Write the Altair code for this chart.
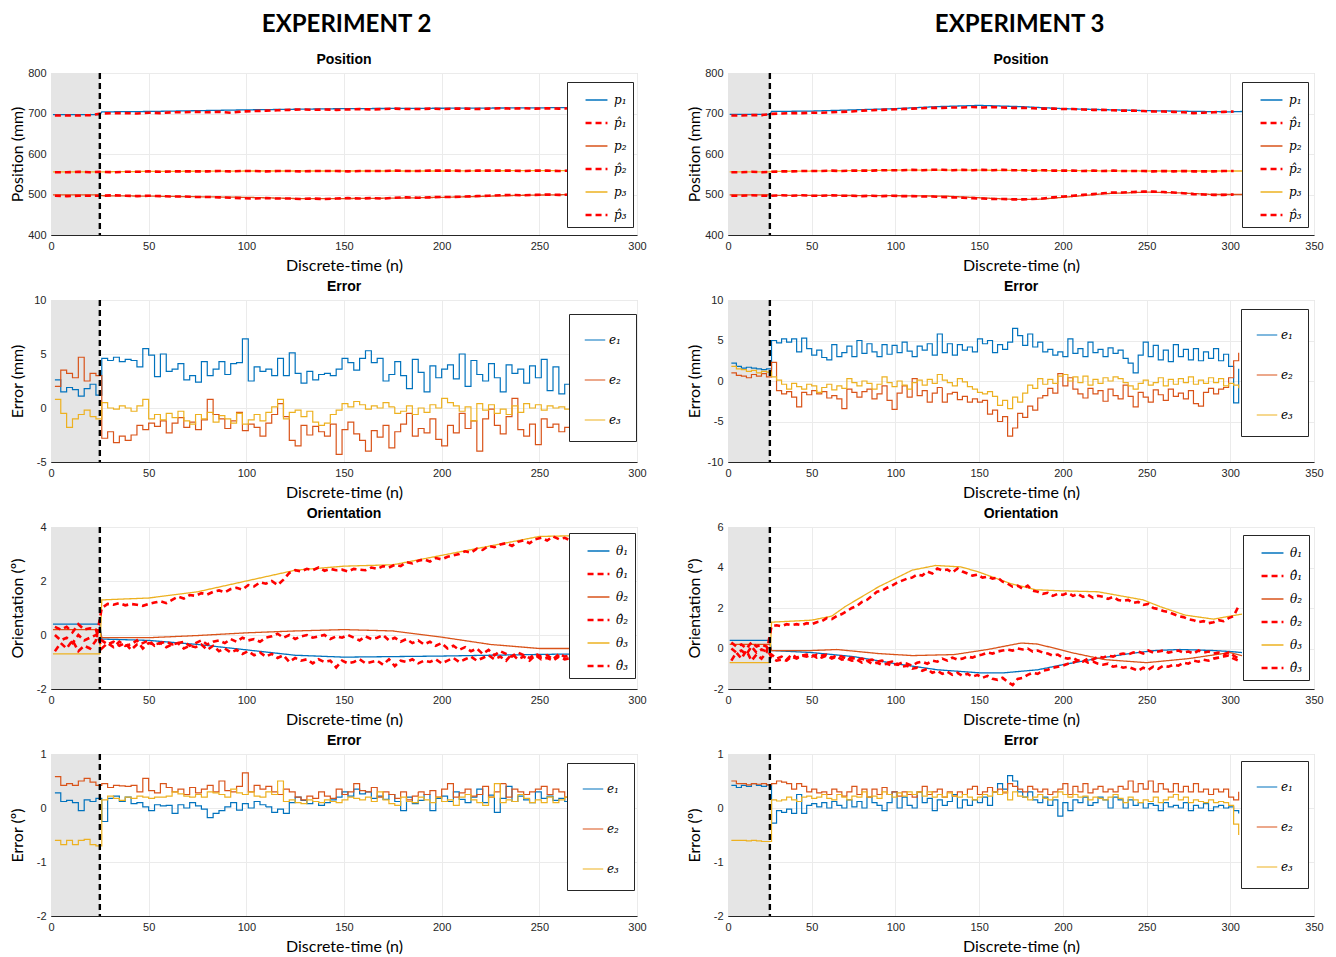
import altair as alt
import pandas as pd

BLUE, ORANGE, YELLOW, RED = "#0072BD", "#D95319", "#EDB120", "#FF0000"

TRANSIENT_END = 25   # end of shaded initial phase (n)
GRID_START = 2       # first sampled instant (n)
ERR_STEP = 3         # sampling step of error / orientation-estimate series
POS_HAT_STEP = 6     # sampling step of position estimates

# ======================= EXPERIMENT 2 =======================
E2_P1_N = [1, 25, 26, 50, 100, 150, 200, 250, 270]
E2_P1 = [697, 697, 704, 705, 709, 712, 713, 714, 715]
E2_P2_N = [1, 25, 26, 50, 100, 125, 150, 175, 200, 240, 270]
E2_P2 = [499, 499, 497, 496, 493, 490, 490, 491, 493, 498, 500]
E2_P3_N = [1, 25, 26, 50, 100, 150, 200, 250, 270]
E2_P3 = [556, 556, 556, 557, 558, 558, 558, 559, 559]
E2_P1_HAT = [695, 695, 695, 696,
             700, 701, 701, 700, 702, 701, 703, 703, 704, 703,
             704, 702, 705, 706, 707, 708, 709, 710, 709, 710,
             709, 710, 711, 710, 711, 712, 711, 711, 712, 711,
             712, 712, 711, 712, 713, 712, 713, 712, 713, 712, 713]
E2_P2_HAT = [497, 496, 497, 497,
             497, 498, 497, 496, 497, 496, 495, 495, 494, 494,
             493, 492, 491, 490, 491, 490, 490, 489, 490, 489,
             490, 491, 490, 491, 490, 492, 493, 492, 493, 494,
             494, 495, 496, 497, 498, 499, 498, 499, 500, 499, 500]
E2_P3_HAT = [555, 555, 556, 555,
             556, 555, 556, 556, 557, 556, 557, 557, 557, 557,
             558, 557, 558, 558, 557, 558, 558, 557, 558, 558,
             558, 557, 558, 558, 558, 559, 558, 558, 559, 559,
             559, 558, 559, 559, 559, 559, 558, 559, 559, 558, 559]

E2_EP1 = [2.6, 1.5, 1.9, 1.7, 1.1, 1.8, 2.2, 1.2,
          4.6, 4.4, 4.7, 4.3, 4.5, 4.4, 3.8, 5.5, 4.9, 2.9,
          5.0, 3.4, 3.6, 4.1, 2.6, 3.0, 2.4, 4.3, 3.0, 3.6,
          4.3, 3.1, 4.1, 4.2, 6.4, 2.5, 3.8, 3.4, 3.6, 3.0,
          4.6, 3.0, 5.1, 3.2, 2.3, 3.4, 2.6, 3.1, 3.2, 3.0,
          3.6, 4.6, 4.2, 3.5, 4.6, 5.3, 4.2, 4.6, 2.5, 3.1,
          4.3, 3.0, 1.8, 4.5, 3.3, 1.5, 3.9, 2.8, 3.6, 4.0,
          2.7, 5.0, 2.0, 4.4, 3.1, 2.5, 4.1, 2.8, 1.5, 4.0,
          3.2, 3.6, 2.3, 3.9, 2.8, 4.5, 1.6, 3.8, 1.3, 2.2, 2.6, 2.4]
E2_EP2 = [2.0, 3.5, 3.2, 2.8, 4.7, 2.5, 3.2, 3.0,
          -2.8, -2.2, -3.2, -2.6, -3.0, -2.5, -1.6, -2.0, -1.4, -1.7,
          -1.2, -2.3, -1.4, -0.9, -1.8, -1.3, -2.0, -1.1, 0.8, -0.6,
          -1.0, -1.9, -1.2, -0.4, -2.1, -1.5, -1.8, -2.6, -1.4, -0.6,
          0.4, -0.8, -3.0, -3.5, -1.6, -2.5, -1.7, -2.2, -2.6, -1.5,
          -4.3, -2.0, -1.3, -2.4, -3.0, -4.0, -2.1, -2.7, -1.6, -3.7,
          -2.2, -1.5, -0.5, -2.6, -1.9, -2.3, -1.0, -2.9, -3.5, -1.6,
          -2.3, -0.5, -1.9, -1.2, -4.0, -1.0, -0.1, -1.6, -2.4, -0.8,
          0.9, -2.0, -2.6, -1.5, -3.4, -1.0, -1.8, -1.5, -2.2, -1.8, -2.0, -2.4]
E2_EP3 = [0.8, -0.5, -1.8, -1.0, -0.6, -0.2, -0.8, -1.0,
          0.5, 0.0, -0.1, 0.2, 0.0, -0.3, 0.2, 0.8, -1.0, -0.6,
          -1.1, -0.5, -0.9, -0.3, -1.2, -1.5, -0.6, -1.0, -0.4, -1.3,
          -0.7, -1.0, -1.4, -0.5, -1.5, -1.1, -0.6, -1.2, -0.4, 0.1,
          0.8, -1.0, -0.4, -0.2, -0.8, -0.3, -1.3, -1.6, -1.4, -0.6,
          -0.2, 0.4, 0.1, 0.6, 0.3, -0.1, 0.2, 0.0, 0.5, 0.1,
          -0.5, -0.3, 0.2, -0.6, 0.0, -0.4, 0.3, 0.0, 0.9, 0.5,
          0.2, -0.3, 0.1, -1.2, 0.4, -0.2, 0.3, -0.5, -0.1, -0.6,
          0.2, -0.4, 0.4, 0.0, 0.3, -0.2, 0.2, 0.0, 0.1, -0.1, 0.0, 0.0]

E2_T_N = [1, 25, 26, 50, 75, 100, 125, 150, 175, 200, 225, 250, 270]
E2_T1 = [0.4, 0.4, -0.15, -0.2, -0.35, -0.55, -0.75, -0.82, -0.8, -0.78, -0.75, -0.72, -0.7]
E2_T2 = [0.2, 0.2, -0.1, -0.1, -0.02, 0.08, 0.15, 0.2, 0.15, -0.08, -0.35, -0.5, -0.5]
E2_T3 = [-0.7, -0.7, 1.3, 1.37, 1.6, 2.0, 2.4, 2.55, 2.6, 2.95, 3.3, 3.65, 3.68]
E2_T1_HAT = [0.3, 0.2, 0.3, 0.1, 0.4, 0.2, 0.25, 0.2,
             -0.5, -0.3, -0.45, -0.25, -0.4, -0.35, -0.2, -0.5, -0.3, -0.35,
             -0.3, -0.45, -0.35, -0.3, -0.5, -0.4, -0.45, -0.35, -0.55, -0.4,
             -0.6, -0.5, -0.65, -0.55, -0.7, -0.6, -0.75, -0.65, -0.8, -0.7,
             -0.85, -0.75, -1.0, -0.85, -0.95, -0.9, -1.05, -0.9, -1.0, -0.95,
             -1.2, -0.95, -1.05, -1.0, -0.9, -1.05, -1.0, -0.95, -1.1, -0.9,
             -1.15, -0.95, -1.0, -0.9, -1.05, -0.95, -1.0, -0.9, -1.05, -0.95,
             -0.85, -1.0, -0.9, -0.8, -0.95, -0.85, -0.75, -0.9, -0.8, -0.95,
             -0.7, -0.9, -0.8, -0.95, -0.75, -0.9, -0.85, -0.95, -0.8, -0.9, -0.85, -0.9]
E2_T2_HAT = [0.0, -0.2, -0.1, -0.3, 0.0, -0.2, -0.1, 0.0,
             -0.2, -0.35, -0.25, -0.4, -0.3, -0.55, -0.35, -0.3, -0.2, -0.4,
             -0.3, -0.25, -0.35, -0.3, -0.25, -0.4, -0.3, -0.2, -0.35, -0.25,
             -0.2, -0.3, -0.15, -0.25, -0.1, -0.2, -0.15, -0.25, -0.1, -0.05,
             0.05, -0.1, 0.0, -0.15, -0.05, 0.0, -0.1, -0.05, 0.0, -0.15,
             -0.05, -0.1, 0.0, -0.1, -0.2, -0.05, -0.15, -0.1, 0.0, -0.2,
             -0.1, -0.25, -0.15, -0.3, -0.2, -0.35, -0.25, -0.4, -0.3, -0.5,
             -0.4, -0.55, -0.45, -0.6, -0.5, -0.7, -0.55, -0.75, -0.6, -0.7,
             -0.8, -0.65, -0.75, -0.85, -0.7, -0.8, -0.75, -0.9, -0.7, -0.8, -0.75, -0.8]
E2_T3_HAT = [-0.6, -0.3, -0.5, -0.2, -0.6, -0.4, -0.5, -0.2,
             1.0, 1.15, 1.12, 1.18, 1.1, 1.15, 1.12, 1.08, 1.15, 1.2,
             1.25, 1.18, 1.3, 1.42, 1.35, 1.48, 1.45, 1.55, 1.5, 1.6,
             1.65, 1.58, 1.7, 1.75, 1.68, 1.85, 1.8, 1.95, 1.9, 2.0,
             1.85, 2.05, 2.3, 2.4, 2.35, 2.45, 2.4, 2.5, 2.38, 2.45,
             2.4, 2.42, 2.35, 2.45, 2.42, 2.4, 2.5, 2.45, 2.55, 2.5,
             2.6, 2.55, 2.7, 2.65, 2.75, 2.8, 2.72, 2.85, 2.8, 2.9,
             2.95, 3.0, 3.1, 3.05, 3.2, 3.15, 3.3, 3.25, 3.35, 3.4,
             3.3, 3.45, 3.5, 3.4, 3.55, 3.6, 3.5, 3.65, 3.55, 3.6, 3.5, 3.6]

E2_EO1 = [0.28, 0.12, 0.14, 0.1, -0.05, 0.15, 0.12, 0.18,
          -0.25, 0.18, 0.22, 0.12, 0.2, 0.08, 0.1, 0.02, -0.05, 0.06,
          0.04, 0.05, -0.1, 0.06, 0.0, 0.1, 0.04, -0.02, -0.18, -0.1,
          -0.05, 0.02, 0.1, -0.04, 0.08, 0.0, 0.12, 0.06, 0.02, -0.08,
          -0.02, -0.1, 0.1, 0.2, 0.14, 0.08, 0.12, 0.05, 0.1, 0.15,
          0.2, 0.3, 0.22, 0.35, 0.26, 0.3, 0.18, 0.22, 0.16, 0.25,
          0.12, -0.05, 0.2, 0.08, 0.14, 0.25, -0.05, 0.18, 0.22, 0.12,
          0.3, 0.16, 0.1, 0.2, 0.35, 0.1, 0.24, -0.08, 0.18, 0.4,
          0.12, 0.22, 0.15, 0.1, 0.3, 0.18, 0.22, 0.14, 0.18, 0.12, 0.15, 0.2]
E2_EO2 = [0.58, 0.42, 0.45, 0.42, 0.5, 0.55, 0.48, 0.42,
          0.45, 0.38, 0.42, 0.41, 0.4, 0.42, 0.3, 0.55, 0.32, 0.28,
          0.45, 0.38, 0.3, 0.35, 0.25, 0.38, 0.28, 0.35, 0.42, 0.3,
          0.5, 0.32, 0.3, 0.4, 0.65, 0.3, 0.42, 0.35, 0.4, 0.3,
          0.25, 0.35, 0.3, 0.2, 0.15, 0.22, 0.18, 0.3, 0.22, 0.18,
          0.35, 0.25, 0.3, 0.45, 0.32, 0.3, 0.38, 0.2, 0.3, 0.25,
          0.18, 0.3, 0.15, 0.22, 0.3, 0.25, 0.32, 0.2, 0.35, 0.45,
          0.2, 0.28, 0.35, 0.22, 0.25, 0.4, 0.2, 0.3, 0.45, 0.2,
          0.35, 0.3, 0.25, 0.3, 0.35, 0.4, 0.25, 0.35, 0.3, 0.2, 0.28, 0.2]
E2_EO3 = [-0.6, -0.68, -0.6, -0.68, -0.6, -0.58, -0.68, -0.7,
          0.15, 0.22, 0.18, 0.14, 0.2, 0.18, 0.22, 0.2, 0.18, 0.2,
          0.2, 0.22, 0.3, 0.26, 0.22, 0.2, 0.25, 0.2, 0.3, 0.28,
          0.25, 0.2, 0.35, 0.28, 0.25, 0.3, 0.22, 0.2, 0.3, 0.25,
          0.5, 0.12, 0.15, 0.1, 0.08, 0.15, 0.12, 0.1, 0.15, 0.12,
          0.1, 0.15, 0.2, 0.18, 0.15, 0.2, 0.12, 0.3, 0.15, 0.08,
          0.05, 0.2, 0.12, 0.1, 0.2, 0.15, 0.1, 0.2, 0.12, 0.15,
          0.05, 0.2, 0.25, 0.15, 0.1, 0.05, 0.2, 0.45, 0.1, 0.15,
          0.12, 0.25, 0.18, 0.1, 0.15, 0.1, 0.2, 0.1, 0.15, 0.2, 0.12, 0.18]

# ======================= EXPERIMENT 3 =======================
E3_P1_N = [1, 25, 26, 50, 100, 125, 150, 175, 200, 250, 300, 307]
E3_P1 = [698, 698, 705, 706, 712, 717, 720, 717, 712, 707, 704, 705]
E3_P2_N = [1, 25, 26, 50, 100, 130, 150, 170, 185, 200, 225, 250, 270, 290, 307]
E3_P2 = [499, 499, 498, 498, 497, 496, 492, 488, 488, 493, 502, 506, 504, 500, 500]
E3_P3_N = [1, 25, 26, 50, 100, 150, 200, 250, 307]
E3_P3 = [556, 556, 557, 558, 560, 560, 559, 558, 558]
E3_P1_HAT = [695, 695, 696, 696,
             699, 700, 701, 701, 702, 702, 703, 704, 705, 707,
             708, 709, 710, 711, 712, 713, 714, 714, 715, 715,
             716, 715, 716, 715, 714, 714, 713, 712, 712, 711,
             711, 710, 709, 709, 708, 707, 707, 706, 705, 705,
             704, 703, 701, 702, 703, 704, 705]
E3_P2_HAT = [497, 497, 498, 497,
             497, 498, 497, 498, 497, 497, 498, 497, 497, 496,
             497, 496, 497, 496, 496, 495, 495, 494, 493, 492,
             491, 490, 489, 489, 488, 488, 489, 490, 493, 495,
             497, 499, 501, 503, 505, 505, 506, 507, 507, 506,
             505, 503, 501, 500, 499, 499, 500]
E3_P3_HAT = [555, 555, 556, 555,
             556, 557, 557, 558, 558, 558, 559, 558, 559, 559,
             559, 560, 560, 560, 561, 560, 561, 561, 560, 561,
             560, 561, 560, 561, 560, 560, 559, 560, 559, 559,
             559, 558, 559, 558, 559, 558, 558, 558, 557, 558,
             557, 558, 557, 557, 557, 558, 558]

E3_EP1 = [2.2, 1.8, 1.6, 1.7, 1.6, 1.5, 1.4, 1.5,
          5.0, 4.7, 5.2, 4.8, 5.2, 3.6, 5.3, 4.0, 3.2, 3.8,
          2.9, 2.6, 4.5, 3.0, 3.5, 4.3, 3.0, 5.0, 3.4, 4.6,
          3.6, 3.0, 4.5, 3.3, 4.4, 3.5, 4.8, 3.7, 3.0, 4.3,
          3.8, 4.6, 3.2, 5.8, 3.5, 4.6, 3.2, 4.5, 3.8, 4.2,
          3.6, 5.2, 4.6, 5.0, 3.5, 4.5, 3.9, 4.8, 6.5, 5.6,
          4.4, 5.8, 4.2, 4.8, 3.6, 3.9, 3.2, 3.6, 3.0, 5.2,
          3.4, 4.0, 3.0, 4.8, 3.5, 3.9, 3.0, 4.1, 3.4, 3.8,
          2.8, 2.2, 1.0, 3.2, 4.8, 3.0, 4.4, 2.6, 3.8, 2.4,
          4.5, 3.0, 3.9, 2.6, 4.0, 2.5, 3.6, 2.8, 4.0, 2.5,
          3.3, 1.8, -2.7, 1.5]
E3_EP2 = [1.0, 0.7, 0.6, 0.4, 0.8, 0.6, 0.9, 0.5,
          2.3, -1.2, -1.6, -1.3, -2.0, -3.2, -1.4, -1.7, -1.2, -1.6,
          -1.3, -2.1, -1.8, -2.2, -3.4, -1.0, -1.4, -2.0, -1.3, -1.0,
          -2.2, -1.6, -0.6, -2.4, -3.5, -1.5, -0.6, -2.0, 0.3, -1.8,
          -1.2, -2.6, -1.5, -0.8, -2.6, -1.6, -1.4, -2.3, -1.9, -2.6,
          -2.2, -2.6, -2.4, -4.1, -3.6, -5.0, -4.4, -6.8, -5.8, -4.0,
          -4.5, -3.1, -3.6, -2.1, -1.8, -0.9, -1.5, 0.9, -0.6, 0.4,
          -1.0, -1.6, -2.1, -0.9, -1.6, -1.2, -2.5, -1.0, -1.8, -2.2,
          -0.5, -1.9, -3.2, -1.4, -2.0, -2.6, -1.1, -1.7, -2.4, -1.0,
          -1.9, -1.5, -2.2, -1.2, -2.8, -3.1, -1.4, -0.9, -1.6, -1.0,
          -0.8, 0.4, 2.5, 3.5]
E3_EP3 = [1.8, 1.5, 1.4, 1.2, 1.3, 1.0, 1.2, 1.1,
          0.5, 0.1, -0.4, -1.0, -0.3, -0.7, -1.0, -0.4, -0.6, -1.4,
          -0.8, -0.4, -1.1, -0.6, -0.9, 0.3, -0.2, -0.6, 0.0, -0.3,
          -1.0, -0.4, 0.5, -0.2, -0.7, 0.0, -0.5, -1.0, -0.2, 0.1,
          -0.5, 0.2, -0.3, 0.8, 0.1, -0.2, -0.6, 0.3, -0.1, -0.7,
          -1.0, -1.4, -1.6, -1.3, -1.9, -3.0, -2.4, -3.4, -2.0, -2.6,
          -1.5, -0.5, -0.9, 0.3, -0.4, 0.2, -0.3, 0.6, 0.8, 0.0,
          0.5, -0.2, 0.6, -0.5, 0.2, -0.3, 0.4, 0.0, 0.5, 0.3,
          -0.2, -0.6, -1.0, -0.3, 0.1, -0.5, -0.2, 0.4, -0.6, 0.2,
          -0.4, 0.3, -0.2, 0.5, -0.4, 0.1, -0.3, 0.4, -0.2, 0.3,
          -0.6, -0.3, -0.5, -0.9]

E3_T1_N = [1, 25, 26, 50, 75, 100, 125, 150, 165, 185, 200, 220, 240, 255, 270, 290, 300, 307]
E3_T1 = [0.4, 0.4, -0.1, -0.2, -0.4, -0.75, -1.05, -1.2, -1.2, -1.05, -0.8, -0.5, -0.25, -0.1, -0.05, -0.1, -0.15, -0.2]
E3_T2_N = [1, 25, 26, 50, 65, 90, 110, 135, 155, 175, 185, 205, 225, 250, 275, 300, 307]
E3_T2 = [0.2, 0.2, -0.1, -0.1, -0.05, -0.25, -0.35, -0.3, -0.05, 0.27, 0.22, -0.2, -0.55, -0.7, -0.5, -0.2, -0.35]
E3_T3_N = [1, 25, 26, 50, 62, 70, 90, 100, 110, 124, 139, 149, 169, 184, 199, 221, 248, 258, 273, 290, 300, 307]
E3_T3 = [-0.7, -0.7, 1.3, 1.4, 1.6, 2.07, 3.05, 3.46, 3.87, 4.1, 4.03, 3.8, 3.2, 2.9, 2.85, 2.8, 2.4, 2.07, 1.65, 1.45, 1.6, 1.7]
E3_T1_HAT = [0.3, 0.1, 0.2, 0.0, 0.3, 0.1, 0.2, 0.1,
             -0.45, -0.6, -0.55, -0.6, -0.4, -0.5, -0.35, -0.3, -0.4, -0.3,
             -0.45, -0.35, -0.5, -0.4, -0.55, -0.5, -0.6, -0.55, -0.7, -0.6,
             -0.75, -0.7, -0.8, -0.75, -0.85, -0.75, -0.9, -0.85, -1.0, -0.95,
             -1.1, -1.0, -1.2, -1.1, -1.25, -1.15, -1.3, -1.2, -1.35, -1.25,
             -1.4, -1.3, -1.45, -1.35, -1.5, -1.55, -1.45, -1.65, -1.8, -1.5,
             -1.45, -1.3, -1.2, -1.25, -1.1, -1.05, -0.95, -0.9, -0.85, -0.75,
             -0.7, -0.6, -0.65, -0.5, -0.55, -0.4, -0.45, -0.35, -0.4, -0.3,
             -0.25, -0.3, -0.2, -0.15, -0.25, -0.1, -0.2, -0.15, -0.1, -0.2,
             -0.15, -0.1, -0.2, -0.15, -0.25, -0.1, -0.2, -0.15, -0.25, -0.2,
             -0.3, -0.2, -0.35, -0.5]
E3_T2_HAT = [0.0, -0.2, -0.1, -0.3, 0.1, -0.2, -0.05, -0.15,
             -0.3, -0.5, -0.4, -0.55, -0.3, -0.45, -0.35, -0.4, -0.3, -0.45,
             -0.35, -0.3, -0.45, -0.35, -0.4, -0.5, -0.45, -0.55, -0.5, -0.6,
             -0.55, -0.65, -0.6, -0.7, -0.65, -0.8, -0.7, -0.75, -0.85, -0.7,
             -0.65, -0.75, -0.6, -0.65, -0.5, -0.6, -0.45, -0.55, -0.5, -0.4,
             -0.45, -0.35, -0.3, -0.2, -0.25, -0.15, -0.1, -0.05, -0.1, 0.0,
             -0.05, 0.0, -0.15, -0.1, -0.2, -0.25, -0.35, -0.3, -0.45, -0.5,
             -0.45, -0.6, -0.55, -0.7, -0.65, -0.75, -0.8, -0.75, -0.9, -0.85,
             -0.95, -0.9, -1.0, -1.1, -0.95, -1.05, -0.9, -1.0, -0.85, -0.9,
             -0.8, -0.85, -0.7, -0.75, -0.6, -0.65, -0.55, -0.6, -0.5, -0.45,
             -0.4, -0.35, -0.5, -0.6]
E3_T3_HAT = [-0.6, -0.2, -0.5, -0.1, -0.6, -0.3, -0.5, -0.2,
             1.1, 1.15, 1.1, 1.2, 1.15, 1.2, 1.15, 1.25, 1.2, 1.3,
             1.35, 1.5, 1.45, 1.6, 1.7, 1.85, 2.0, 2.1, 2.3, 2.4,
             2.6, 2.8, 2.85, 3.0, 3.1, 3.25, 3.35, 3.45, 3.5, 3.65,
             3.6, 3.8, 3.7, 3.95, 3.85, 3.9, 3.75, 3.95, 3.8, 3.7,
             3.6, 3.65, 3.5, 3.55, 3.45, 3.5, 3.3, 3.2, 3.05, 3.1,
             2.95, 3.1, 2.85, 2.8, 2.7, 2.75, 2.6, 2.7, 2.65, 2.75,
             2.6, 2.7, 2.55, 2.65, 2.5, 2.6, 2.55, 2.45, 2.55, 2.4,
             2.35, 2.4, 2.25, 2.3, 2.15, 2.2, 2.0, 1.95, 1.85, 1.8,
             1.7, 1.6, 1.55, 1.45, 1.4, 1.3, 1.35, 1.25, 1.3, 1.4,
             1.35, 1.5, 1.6, 2.1]

E3_EO1 = [0.42, 0.38, 0.42, 0.4, 0.45, 0.42, 0.4, 0.43,
          -0.28, -0.05, -0.08, -0.02, -0.1, 0.25, -0.1, 0.05, 0.08, 0.02,
          0.1, 0.0, 0.12, 0.05, 0.0, 0.15, 0.02, 0.12, 0.0, 0.2,
          0.1, 0.05, -0.05, 0.1, 0.3, 0.0, 0.2, 0.05, 0.0, 0.3,
          0.1, 0.18, -0.05, 0.15, 0.05, 0.12, 0.25, 0.0, 0.15, 0.05,
          0.15, 0.1, 0.2, 0.05, 0.3, 0.45, 0.35, 0.6, 0.5, 0.3,
          0.2, 0.3, 0.15, 0.1, 0.2, 0.05, 0.15, -0.15, 0.1, -0.05,
          0.15, 0.1, 0.2, 0.05, 0.1, 0.2, 0.15, 0.0, 0.2, 0.15,
          0.0, 0.15, 0.05, 0.1, 0.0, 0.08, 0.05, -0.05, 0.1, 0.02,
          0.05, 0.0, 0.1, -0.05, 0.05, 0.0, 0.08, -0.05, 0.02, 0.05,
          0.0, 0.02, -0.05, -0.1]
E3_EO2 = [0.5, 0.45, 0.45, 0.43, 0.45, 0.44, 0.45, 0.43,
          0.45, 0.5, 0.48, 0.45, 0.35, 0.45, 0.4, 0.3, 0.35, 0.28,
          0.3, 0.25, 0.35, 0.3, 0.22, 0.3, 0.4, 0.25, 0.35, 0.2,
          0.35, 0.25, 0.38, 0.25, 0.3, 0.22, 0.3, 0.25, 0.2, 0.3,
          0.4, 0.25, 0.3, 0.35, 0.2, 0.3, 0.22, 0.3, 0.25, 0.35,
          0.4, 0.25, 0.3, 0.38, 0.3, 0.35, 0.28, 0.45, 0.4, 0.35,
          0.3, 0.4, 0.35, 0.3, 0.35, 0.25, 0.3, 0.35, 0.45, 0.25,
          0.4, 0.3, 0.45, 0.28, 0.35, 0.4, 0.3, 0.35, 0.3, 0.4,
          0.35, 0.5, 0.3, 0.45, 0.35, 0.5, 0.3, 0.45, 0.35, 0.3,
          0.45, 0.3, 0.4, 0.3, 0.45, 0.3, 0.35, 0.25, 0.35, 0.3,
          0.35, 0.2, 0.15, 0.3]
E3_EO3 = [-0.6, -0.6, -0.6, -0.61, -0.6, -0.61, -0.62, -0.62,
          0.15, 0.13, 0.15, 0.2, 0.15, 0.12, 0.2, 0.22, 0.18, 0.2,
          0.25, 0.18, 0.15, 0.25, 0.2, 0.15, 0.22, 0.2, 0.3, 0.2,
          0.22, 0.18, 0.3, 0.25, 0.2, 0.28, 0.22, 0.3, 0.25, 0.3,
          0.22, 0.3, 0.2, 0.25, 0.2, 0.28, 0.22, 0.2, 0.25, 0.2,
          0.15, 0.2, 0.25, 0.22, 0.3, 0.25, 0.3, 0.15, 0.3, 0.22,
          0.2, 0.15, 0.2, 0.25, 0.18, 0.15, 0.2, 0.3, 0.25, 0.2,
          0.25, 0.2, 0.22, 0.15, 0.2, 0.18, 0.15, 0.2, 0.25, 0.18,
          0.1, 0.2, 0.15, 0.1, 0.15, 0.12, 0.2, 0.1, 0.15, 0.2,
          0.25, 0.15, 0.2, 0.1, 0.15, 0.12, 0.1, 0.15, 0.1, 0.12,
          0.1, 0.05, -0.3, -0.5]

# ======================= labels / styles =======================
P_LABELS = ["p\u2081", "p\u0302\u2081", "p\u2082", "p\u0302\u2082", "p\u2083", "p\u0302\u2083"]
T_LABELS = ["\u03b8\u2081", "\u03b8\u0302\u2081", "\u03b8\u2082", "\u03b8\u0302\u2082", "\u03b8\u2083", "\u03b8\u0302\u2083"]
E_LABELS = ["e\u2081", "e\u2082", "e\u2083"]
SIX_COLORS = [BLUE, RED, ORANGE, RED, YELLOW, RED]
SIX_DASHES = [[1, 0], [6, 4], [1, 0], [6, 4], [1, 0], [6, 4]]
SIX_WIDTHS = [1.3, 2.6, 1.3, 2.6, 1.3, 2.6]
E_COLORS = [BLUE, ORANGE, YELLOW]
E_DASHES = [[1, 0], [1, 0], [1, 0]]
E_WIDTHS = [1.2, 1.2, 1.2]


def grid_rows(values, step, label):
    return [{"n": GRID_START + step * i, "v": v, "s": label} for i, v in enumerate(values)]


def knot_rows(ns, vs, label):
    return [{"n": n, "v": v, "s": label} for n, v in zip(ns, vs)]


def panel(rows, labels, colors, dashes, widths, interp, xmax, ydom, yvals,
          title, ytitle, lx, ly, leg_style):
    xs = alt.Scale(domain=[0, xmax], nice=False, zero=False)
    ys = alt.Scale(domain=ydom, nice=False, zero=False)
    xaxis = alt.Axis(values=list(range(0, xmax + 1, 50)), title="Discrete-time (n)",
                     labelFlush=False, labelPadding=5, titlePadding=6)
    yaxis = alt.Axis(values=yvals, title=ytitle, labelPadding=5, titlePadding=4,
                     minExtent=22, maxExtent=22,
                     labelExpr="replace(datum.label, '\u2212', '-')")
    shade_df = pd.DataFrame({"a": [0], "b": [TRANSIENT_END], "lo": [ydom[0]], "hi": [ydom[1]]})
    shade = alt.Chart(shade_df).mark_rect(color="#e5e5e5").encode(
        x=alt.X("a:Q", scale=xs, axis=xaxis), x2="b:Q",
        y=alt.Y("lo:Q", scale=ys, axis=yaxis), y2="hi:Q")
    leg = alt.Legend(orient="none", legendX=lx, legendY=ly, title=None,
                     fillColor="white", strokeColor="#262626",
                     symbolType="stroke", labelFont="DejaVu Serif",
                     labelFontStyle="italic", labelFontSize=12, labelColor="black",
                     **leg_style)
    lines = alt.Chart(pd.DataFrame(rows)).mark_line(interpolate=interp, clip=True).encode(
        x=alt.X("n:Q", scale=xs, axis=xaxis),
        y=alt.Y("v:Q", scale=ys, axis=yaxis),
        color=alt.Color("s:N", scale=alt.Scale(domain=labels, range=colors), legend=leg),
        strokeDash=alt.StrokeDash("s:N", scale=alt.Scale(domain=labels, range=dashes), legend=leg),
        strokeWidth=alt.StrokeWidth("s:N", scale=alt.Scale(type="ordinal", domain=labels, range=widths), legend=leg),
    )
    rule = alt.Chart(pd.DataFrame({"t": [TRANSIENT_END]})).mark_rule(
        color="black", strokeDash=[6, 4], strokeWidth=2.4).encode(
        x=alt.X("t:Q", scale=xs, axis=xaxis))
    return alt.layer(shade, lines, rule).properties(
        width=586, height=162,
        title=alt.TitleParams(title, font="Liberation Sans", fontSize=14, fontWeight="bold",
                              offset=0, frame="group", anchor="middle", color="black"))


def pos_rows(k1, v1, k2, v2, k3, v3, h1, h2, h3):
    return (knot_rows(k1, v1, P_LABELS[0]) + knot_rows(k2, v2, P_LABELS[2]) + knot_rows(k3, v3, P_LABELS[4])
            + grid_rows(h1, POS_HAT_STEP, P_LABELS[1]) + grid_rows(h2, POS_HAT_STEP, P_LABELS[3])
            + grid_rows(h3, POS_HAT_STEP, P_LABELS[5]))


def ori_rows(k1, v1, k2, v2, k3, v3, h1, h2, h3):
    return (knot_rows(k1, v1, T_LABELS[0]) + knot_rows(k2, v2, T_LABELS[2]) + knot_rows(k3, v3, T_LABELS[4])
            + grid_rows(h1, ERR_STEP, T_LABELS[1]) + grid_rows(h2, ERR_STEP, T_LABELS[3])
            + grid_rows(h3, ERR_STEP, T_LABELS[5]))


def err_rows(a, b, c):
    return grid_rows(a, ERR_STEP, E_LABELS[0]) + grid_rows(b, ERR_STEP, E_LABELS[1]) + grid_rows(c, ERR_STEP, E_LABELS[2])


SIX = dict(padding=6, rowPadding=4.5, symbolSize=480, symbolOffset=11, labelOffset=5)
THREE = dict(padding=15, rowPadding=23, symbolSize=420, symbolOffset=0, labelOffset=3)

e2 = [
    panel(pos_rows(E2_P1_N, E2_P1, E2_P2_N, E2_P2, E2_P3_N, E2_P3, E2_P1_HAT, E2_P2_HAT, E2_P3_HAT),
          P_LABELS, SIX_COLORS, SIX_DASHES, SIX_WIDTHS, "linear", 300, [400, 800],
          [400, 500, 600, 700, 800], "Position", "Position (mm)", 516, 9, SIX),
    panel(err_rows(E2_EP1, E2_EP2, E2_EP3), E_LABELS, E_COLORS, E_DASHES, E_WIDTHS, "step-after",
          300, [-5, 10], [-5, 0, 5, 10], "Error", "Error (mm)", 518, 14, THREE),
    panel(ori_rows(E2_T_N, E2_T1, E2_T_N, E2_T2, E2_T_N, E2_T3, E2_T1_HAT, E2_T2_HAT, E2_T3_HAT),
          T_LABELS, SIX_COLORS, SIX_DASHES, SIX_WIDTHS, "linear", 300, [-2, 4],
          [-2, 0, 2, 4], "Orientation", "Orientation (\u00ba)", 518, 6, SIX),
    panel(err_rows(E2_EO1, E2_EO2, E2_EO3), E_LABELS, E_COLORS, E_DASHES, E_WIDTHS, "step-after",
          300, [-2, 1], [-2, -1, 0, 1], "Error", "Error (\u00ba)", 516, 9, THREE),
]
e3 = [
    panel(pos_rows(E3_P1_N, E3_P1, E3_P2_N, E3_P2, E3_P3_N, E3_P3, E3_P1_HAT, E3_P2_HAT, E3_P3_HAT),
          P_LABELS, SIX_COLORS, SIX_DASHES, SIX_WIDTHS, "linear", 350, [400, 800],
          [400, 500, 600, 700, 800], "Position", "Position (mm)", 514, 9, SIX),
    panel(err_rows(E3_EP1, E3_EP2, E3_EP3), E_LABELS, E_COLORS, E_DASHES, E_WIDTHS, "step-after",
          350, [-10, 10], [-10, -5, 0, 5, 10], "Error", "Error (mm)", 513, 9, THREE),
    panel(ori_rows(E3_T1_N, E3_T1, E3_T2_N, E3_T2, E3_T3_N, E3_T3, E3_T1_HAT, E3_T2_HAT, E3_T3_HAT),
          T_LABELS, SIX_COLORS, SIX_DASHES, SIX_WIDTHS, "linear", 350, [-2, 6],
          [-2, 0, 2, 4, 6], "Orientation", "Orientation (\u00ba)", 515, 8, SIX),
    panel(err_rows(E3_EO1, E3_EO2, E3_EO3), E_LABELS, E_COLORS, E_DASHES, E_WIDTHS, "step-after",
          350, [-2, 1], [-2, -1, 0, 1], "Error", "Error (\u00ba)", 513, 7, THREE),
]

RES = dict(x="independent", y="independent", color="independent",
           strokeDash="independent", strokeWidth="independent")
LRES = dict(color="independent", strokeDash="independent", strokeWidth="independent")


def column(panels, text, dx):
    return alt.vconcat(*panels, spacing=5).resolve_scale(**RES).resolve_legend(**LRES).properties(
        title=alt.TitleParams(text, font="Lato", fontSize=24, fontWeight="bold", color="black",
                              anchor="middle", offset=16, dx=dx))


chart = alt.hconcat(column(e2, "EXPERIMENT 2", 19), column(e3, "EXPERIMENT 3", 15), spacing=38)
chart = chart.resolve_scale(**RES).resolve_legend(**LRES).properties(
    padding={"left": 0, "top": 4, "right": 0, "bottom": 0}, background="white"
).configure_view(stroke="#d9d9d9", strokeWidth=1).configure_axis(
    labelFont="Liberation Sans", labelFontSize=11, labelColor="#262626",
    titleFont="Lato", titleFontSize=16, titleFontWeight="normal", titleColor="black",
    gridColor="#ebebeb", domainColor="#262626", ticks=False
)

chart.save("out.html", embed_options={"renderer": "svg", "actions": False})
